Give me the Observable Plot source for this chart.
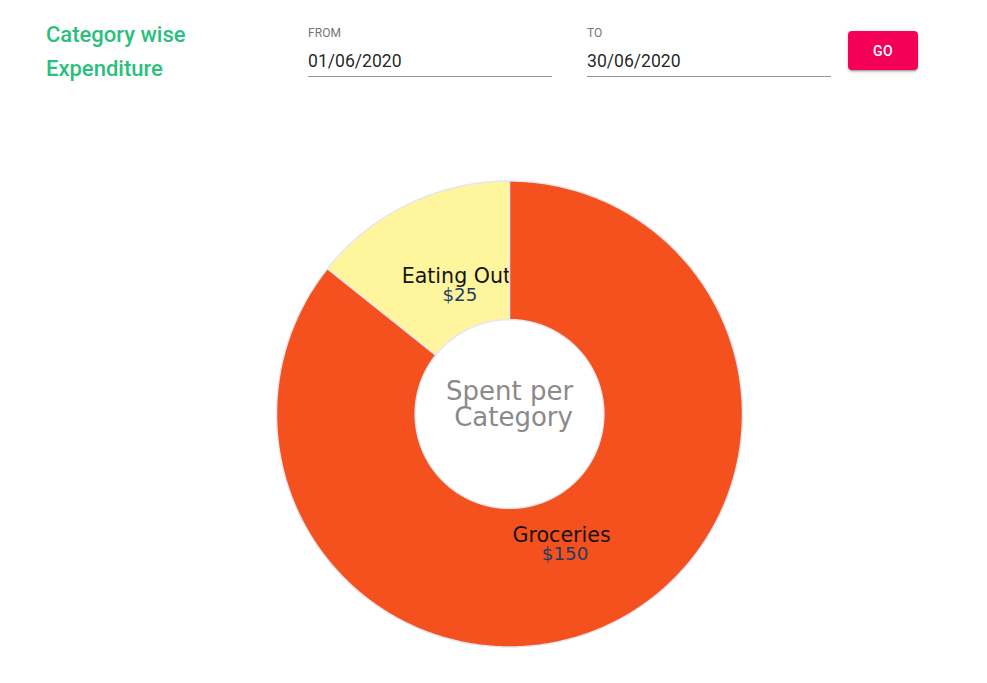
<!DOCTYPE html>
<html>
<head>
<meta charset="utf-8">
<script src="https://cdn.jsdelivr.net/npm/d3@7"></script>
<script src="https://cdn.jsdelivr.net/npm/@observablehq/plot@0.6"></script>
<style>
  html, body { margin: 0; padding: 0; background: #fff; width: 987px; height: 683px; overflow: hidden; }
  body { position: relative; font-family: Roboto, "Noto Sans", sans-serif; }
  .title { position: absolute; left: 46px; top: 18px; color: #2bbf7d; font-weight: 500; font-size: 22px; line-height: 34px; }
  .field { position: absolute; top: 26px; width: 244px; }
  .field .lab { font-size: 12px; color: #757575; line-height: 14px; height: 14px; letter-spacing: 0.1px; }
  .field .val { font-size: 17.6px; color: rgba(0,0,0,0.87); margin-top: 8px; height: 28px; line-height: 26px; border-bottom: 1px solid #949494; }
  .go { position: absolute; left: 848px; top: 31px; width: 70px; height: 39px; background: #f50057; color: #fff; border-radius: 4px;
        font-size: 14px; font-weight: 500; letter-spacing: 0.4px; display: flex; align-items: center; justify-content: center;
        box-shadow: 0 3px 1px -2px rgba(0,0,0,0.2), 0 2px 2px 0 rgba(0,0,0,0.14), 0 1px 5px 0 rgba(0,0,0,0.12); }
  #chart { position: absolute; left: 0; top: 100px; }
</style>
</head>
<body>
<div class="title">Category wise<br>Expenditure</div>
<div class="field" style="left:308px"><div class="lab">FROM</div><div class="val">01/06/2020</div></div>
<div class="field" style="left:587px"><div class="lab">TO</div><div class="val">30/06/2020</div></div>
<div class="go">GO</div>
<div id="chart"></div>
<script>
// ---- data ----
const categories = ["Groceries", "Eating Out"];
const amounts = [150, 25];
const valueLabels = ["$150", "$25"];
const colors = ["#f4511e", "#fff59d"];
const centerTitle = "Spent per\nCategory";

// ---- geometry derived from data via d3.pie ----
const holeFraction = 0.405;
const pie = d3.pie().sort(null).value(d => d.amount);
const rows = categories.map((c, i) => ({category: c, amount: amounts[i], label: valueLabels[i], color: colors[i]}));
const arcs = pie(rows);

function slicePolygon(a) {
  const n = Math.max(8, Math.ceil((a.endAngle - a.startAngle) / (Math.PI / 360)));
  const pts = [];
  for (let k = 0; k <= n; k++) {
    const t = a.startAngle + (a.endAngle - a.startAngle) * k / n;
    pts.push({x: Math.sin(t), y: Math.cos(t)});
  }
  for (let k = n; k >= 0; k--) {
    const t = a.startAngle + (a.endAngle - a.startAngle) * k / n;
    pts.push({x: holeFraction * Math.sin(t), y: holeFraction * Math.cos(t)});
  }
  return pts;
}
function labelPos(a) {
  const t = (a.startAngle + a.endAngle) / 2 + 3.6 * Math.PI / 180;
  const r = 0.6;
  return {x: r * Math.sin(t), y: r * Math.cos(t), name: a.data.category, label: a.data.label};
}

const cx = 509, cy = 313.5, R = 233;
const marks = [];
// draw in reverse order so the first slice covers overflow of later labels
[...arcs].reverse().forEach(a => {
  marks.push(Plot.line(slicePolygon(a), {x: "x", y: "y", fill: a.data.color, stroke: "#e4e7ee", strokeWidth: 1.5, curve: "linear-closed"}));
  const lp = [labelPos(a)];
  marks.push(Plot.text(lp, {x: "x", y: "y", text: "name", fontSize: 20.6, fill: "#141414", dx: -0.5, dy: -8.5, fontFamily: "DejaVu Sans"}));
  marks.push(Plot.text(lp, {x: "x", y: "y", text: "label", fontSize: 18.3, fill: "#1e3d63", dy: 11, dx: 3, fontFamily: "DejaVu Sans"}));
});
const centerLines = centerTitle.split("\n");
marks.push(Plot.text([{x: 0, y: 0, t: centerLines[0]}], {x: "x", y: "y", text: "t", fontSize: 26, fill: "#8a8a8a", dy: -22, fontFamily: "DejaVu Sans"}));
marks.push(Plot.text([{x: 0, y: 0, t: centerLines[1]}], {x: "x", y: "y", text: "t", fontSize: 26, fill: "#8a8a8a", dy: 4, dx: 4, fontFamily: "DejaVu Sans"}));

const chart = Plot.plot({
  width: 987,
  height: 583,
  margin: 0,
  style: {background: "transparent", overflow: "visible"},
  x: {domain: [-1, 1], range: [cx - R, cx + R], axis: null},
  y: {domain: [-1, 1], range: [cy + R, cy - R], axis: null},
  marks
});
document.getElementById("chart").appendChild(chart);
</script>
</body>
</html>
